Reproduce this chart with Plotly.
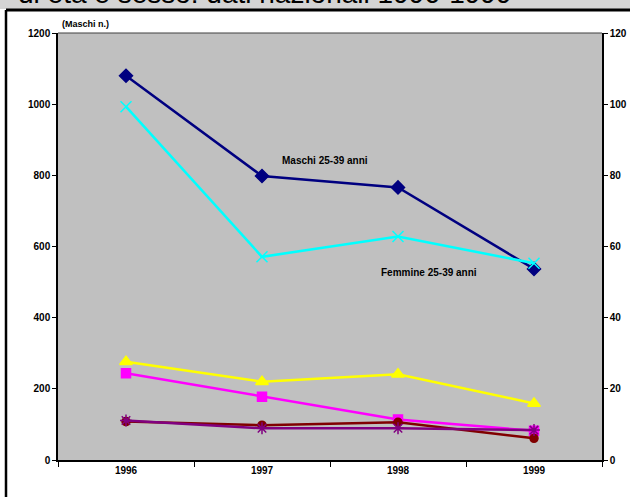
import plotly.graph_objects as go

years = ["1996", "1997", "1998", "1999"]
maschi_25_39 = [1080, 798, 766, 537]
maschi_b = [244, 178, 114, 82]
maschi_c = [276, 220, 241, 159]
femmine_25_39 = [99.3, 57.1, 62.8, 55.3]
femmine_b = [11.1, 8.9, 8.9, 8.4]
femmine_c = [10.8, 9.8, 10.6, 6.1]

left_ticks = [0, 200, 400, 600, 800, 1000, 1200]
right_ticks = [0, 20, 40, 60, 80, 100, 120]

W, H = 630, 497
L, R, T, B = 58, 28, 33, 37
PW, PH = W - L - R, H - T - B

def px(x):
    return (x - L) / PW

def py(y):
    return (H - B - y) / PH

fig = go.Figure()

def add(vals, color, symbol, size, axis, name, lw=2.5):
    fig.add_trace(go.Scatter(
        x=years, y=vals, name=name, mode="lines+markers", yaxis=axis,
        line=dict(color=color, width=lw),
        marker=dict(color=color, symbol=symbol, size=size,
                    line=dict(color=color, width=1.5)),
    ))

add(maschi_25_39, "#000080", "diamond", 10, "y", "Maschi 25-39 anni")
add(maschi_b, "#FF00FF", "square", 9, "y", "Maschi b")
add(maschi_c, "#FFFF00", "triangle-up", 11, "y", "Maschi c")
add(femmine_25_39, "#00FFFF", "x-thin-open", 11, "y2", "Femmine 25-39 anni")
add(femmine_c, "#800000", "circle", 8, "y2", "Femmine c")
add(femmine_b, "#800080", "asterisk-open", 10, "y2", "Femmine b")

NARROW = "Liberation Sans Narrow, Arial Narrow, Arial"
tickfont = dict(family=NARROW, size=10, color="black", weight="bold")

fig.update_layout(
    width=W, height=H,
    margin=dict(l=L, r=R, t=T, b=B, autoexpand=False),
    paper_bgcolor="white",
    plot_bgcolor="#C0C0C0",
    showlegend=False,
    xaxis=dict(
        type="category", range=[-0.5, 3.5], tickson="boundaries",
        ticks="outside", ticklen=5, tickcolor="black",
        showline=True, linecolor="black", linewidth=1.5,
        showgrid=False, zeroline=False, tickfont=tickfont,
    ),
    yaxis=dict(
        range=[0, 1200], tickvals=left_ticks, ticktext=[str(v) for v in left_ticks],
        ticks="outside", ticklen=4, tickcolor="black",
        showline=True, linecolor="black", linewidth=1.5,
        showgrid=False, zeroline=False, tickfont=tickfont,
    ),
    yaxis2=dict(
        range=[0, 120], tickvals=right_ticks, ticktext=[str(v) for v in right_ticks],
        overlaying="y", side="right",
        ticks="outside", ticklen=4, tickcolor="black",
        showline=True, linecolor="black", linewidth=1.5,
        showgrid=False, zeroline=False, tickfont=tickfont,
    ),
    shapes=[
        dict(type="line", xref="paper", yref="paper", x0=0, x1=1, y0=1, y1=1,
             line=dict(color="#404040", width=1.2)),
        dict(type="rect", xref="paper", yref="paper", x0=px(-5), x1=px(640),
             y0=py(9), y1=py(-5), fillcolor="#D4D4D4", line=dict(width=0), layer="below"),
        dict(type="line", xref="paper", yref="paper", x0=px(6), x1=px(640),
             y0=py(10), y1=py(10), line=dict(color="black", width=3)),
        dict(type="line", xref="paper", yref="paper", x0=px(6), x1=px(6),
             y0=py(10), y1=py(505), line=dict(color="black", width=2.5)),
    ],
    annotations=[
        dict(text="di età e sesso: dati nazionali 1996-1999", xref="paper", yref="paper",
             x=px(16), y=py(11), xanchor="left", yanchor="bottom", showarrow=False,
             font=dict(family="Arial", size=28, color="black")),
        dict(text="(Maschi n.)", xref="paper", yref="paper", x=px(60), y=py(24),
             xanchor="left", yanchor="middle", showarrow=False,
             font=dict(family=NARROW, size=9, color="black", weight="bold")),
        dict(text="Maschi 25-39 anni", xref="paper", yref="paper", x=px(325), y=py(160),
             xanchor="center", yanchor="middle", showarrow=False,
             font=dict(family=NARROW, size=10, color="black", weight="bold")),
        dict(text="Femmine 25-39 anni", xref="paper", yref="paper", x=px(429), y=py(272),
             xanchor="center", yanchor="middle", showarrow=False,
             font=dict(family=NARROW, size=10, color="black", weight="bold")),
    ],
)

fig.write_html("out.html", config={"displayModeBar": False},
               post_script="document.body.style.margin='0';document.body.style.overflow='hidden';")
